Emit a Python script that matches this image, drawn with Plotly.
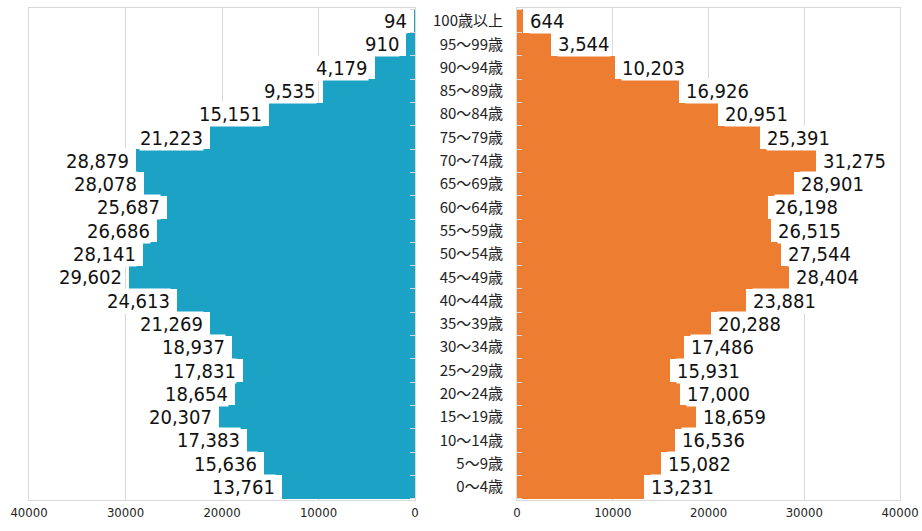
import plotly.graph_objects as go

# Age groups, listed from the oldest (top) to the youngest (bottom)
age_groups = [
    "100歳以上", "95～99歳", "90～94歳", "85～89歳", "80～84歳", "75～79歳",
    "70～74歳", "65～69歳", "60～64歳", "55～59歳", "50～54歳", "45～49歳",
    "40～44歳", "35～39歳", "30～34歳", "25～29歳", "20～24歳", "15～19歳",
    "10～14歳", "5～9歳", "0～4歳",
]
male = [94, 910, 4179, 9535, 15151, 21223, 28879, 28078, 25687, 26686, 28141,
        29602, 24613, 21269, 18937, 17831, 18654, 20307, 17383, 15636, 13761]
female = [644, 3544, 10203, 16926, 20951, 25391, 31275, 28901, 26198, 26515,
          27544, 28404, 23881, 20288, 17486, 15931, 17000, 18659, 16536, 15082, 13231]
x_ticks = [0, 10000, 20000, 30000, 40000]

BLUE = "#1ca2c5"
ORANGE = "#ed7d31"
GRID = "#d9d9d9"
NARROW = "DejaVu Sans Condensed, Liberation Sans Narrow, sans-serif"

fig = go.Figure()
fig.add_trace(go.Bar(y=age_groups, x=male, orientation="h", marker_color=BLUE,
                     marker_line_width=0, xaxis="x", yaxis="y", hoverinfo="x+y"))
fig.add_trace(go.Bar(y=age_groups, x=female, orientation="h", marker_color=ORANGE,
                     marker_line_width=0, xaxis="x2", yaxis="y2", hoverinfo="x+y"))

label_font = dict(family=NARROW, size=20, color="#111111")
for age, v in zip(age_groups, male):
    fig.add_annotation(x=v, y=age, xref="x", yref="y", text=f"{v:,}", showarrow=False,
                       xanchor="right", yanchor="middle", xshift=-6, bgcolor="white",
                       borderpad=0, font=label_font)
for age, v in zip(age_groups, female):
    fig.add_annotation(x=v, y=age, xref="x2", yref="y2", text=f"{v:,}", showarrow=False,
                       xanchor="left", yanchor="middle", xshift=6, bgcolor="white",
                       borderpad=0, font=label_font)

x_common = dict(tickvals=x_ticks, ticktext=[str(t) for t in x_ticks],
                showgrid=True, gridcolor=GRID, gridwidth=1, zeroline=False,
                showline=True, linecolor=GRID, mirror=True, ticks="",
                tickfont=dict(family=NARROW, size=13, color="#222222"),
                automargin=False, fixedrange=True)
y_common = dict(type="category", categoryorder="array", categoryarray=age_groups[::-1],
                showgrid=False, zeroline=False, showline=True, linecolor=GRID, mirror=True,
                ticks="inside", ticklen=5, tickcolor=GRID, tickson="boundaries",
                automargin=False, fixedrange=True)

fig.update_layout(
    width=922, height=531,
    margin=dict(l=0, r=0, t=0, b=0),
    paper_bgcolor="white", plot_bgcolor="white",
    showlegend=False, bargap=0,
    xaxis=dict(domain=[29 / 922, 415 / 922], range=[40000, 0], **x_common),
    yaxis=dict(domain=[1 - 500 / 531, 1 - 8 / 531], anchor="x", side="right",
               showticklabels=False, **y_common),
    xaxis2=dict(domain=[517 / 922, 900 / 922], anchor="y2", range=[0, 40000], **x_common),
    yaxis2=dict(domain=[1 - 500 / 531, 1 - 8 / 531], anchor="x2", side="left",
                showticklabels=True, ticklabelstandoff=10,
                tickfont=dict(family="Noto Sans CJK JP", size=15, color="#222222"),
                **y_common),
)

fig.write_html("out.html")
